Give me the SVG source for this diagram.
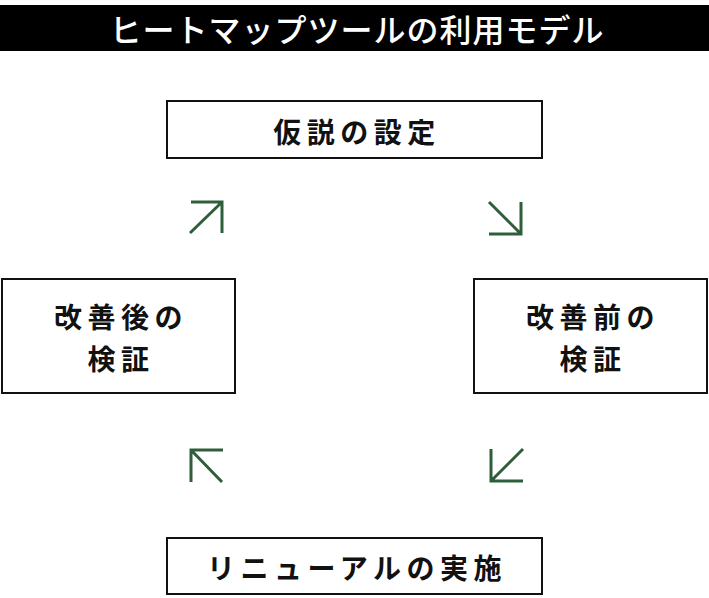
<svg xmlns="http://www.w3.org/2000/svg" width="709" height="598" viewBox="0 0 709 598">
<style>
.box{fill:#fff;stroke:#111;stroke-width:2}
.t{font-family:"Noto Sans CJK JP","Noto Sans",sans-serif;font-size:28px;font-weight:700;fill:#111;letter-spacing:5.5px;text-anchor:middle;dominant-baseline:central}
.title{font-family:"Noto Sans CJK JP","Noto Sans",sans-serif;font-size:32px;font-weight:500;fill:#fff;letter-spacing:1px;text-anchor:middle;dominant-baseline:central}
.arr{fill:none;stroke:#2f5e3a;stroke-width:3;stroke-linecap:butt;stroke-linejoin:miter}
</style>
<rect width="709" height="598" fill="#fff"/>
<g id="title">
<rect x="0" y="5" width="709" height="46" fill="#000"/>
<text class="title" x="357" y="28">ヒートマップツールの利用モデル</text>
</g>
<g id="node-hypothesis">
<rect class="box" x="167" y="101" width="375" height="57"/>
<text class="t" x="357" y="131">仮説の設定</text>
</g>
<g id="node-before">
<rect class="box" x="474" y="279" width="233" height="114"/>
<text class="t" x="593" y="316">改善前の</text>
<text class="t" x="593" y="358">検証</text>
</g>
<g id="node-renewal">
<rect class="box" x="167" y="538" width="375" height="56"/>
<text class="t" x="357" y="567">リニューアルの実施</text>
</g>
<g id="node-after">
<rect class="box" x="2" y="279" width="233" height="114"/>
<text class="t" x="121" y="316">改善後の</text>
<text class="t" x="121" y="358">検証</text>
</g>
<g id="connectors">
<path class="arr" d="M190,233 L222,202 M191,202 H222 V233"/>
<path class="arr" d="M489,202 L521,234 M521,202 V234 H489"/>
<path class="arr" d="M523,449 L491,481 M491,449 V481 H523"/>
<path class="arr" d="M222,482 L191,450 M191,482 V450 H223"/>
</g>
</svg>
